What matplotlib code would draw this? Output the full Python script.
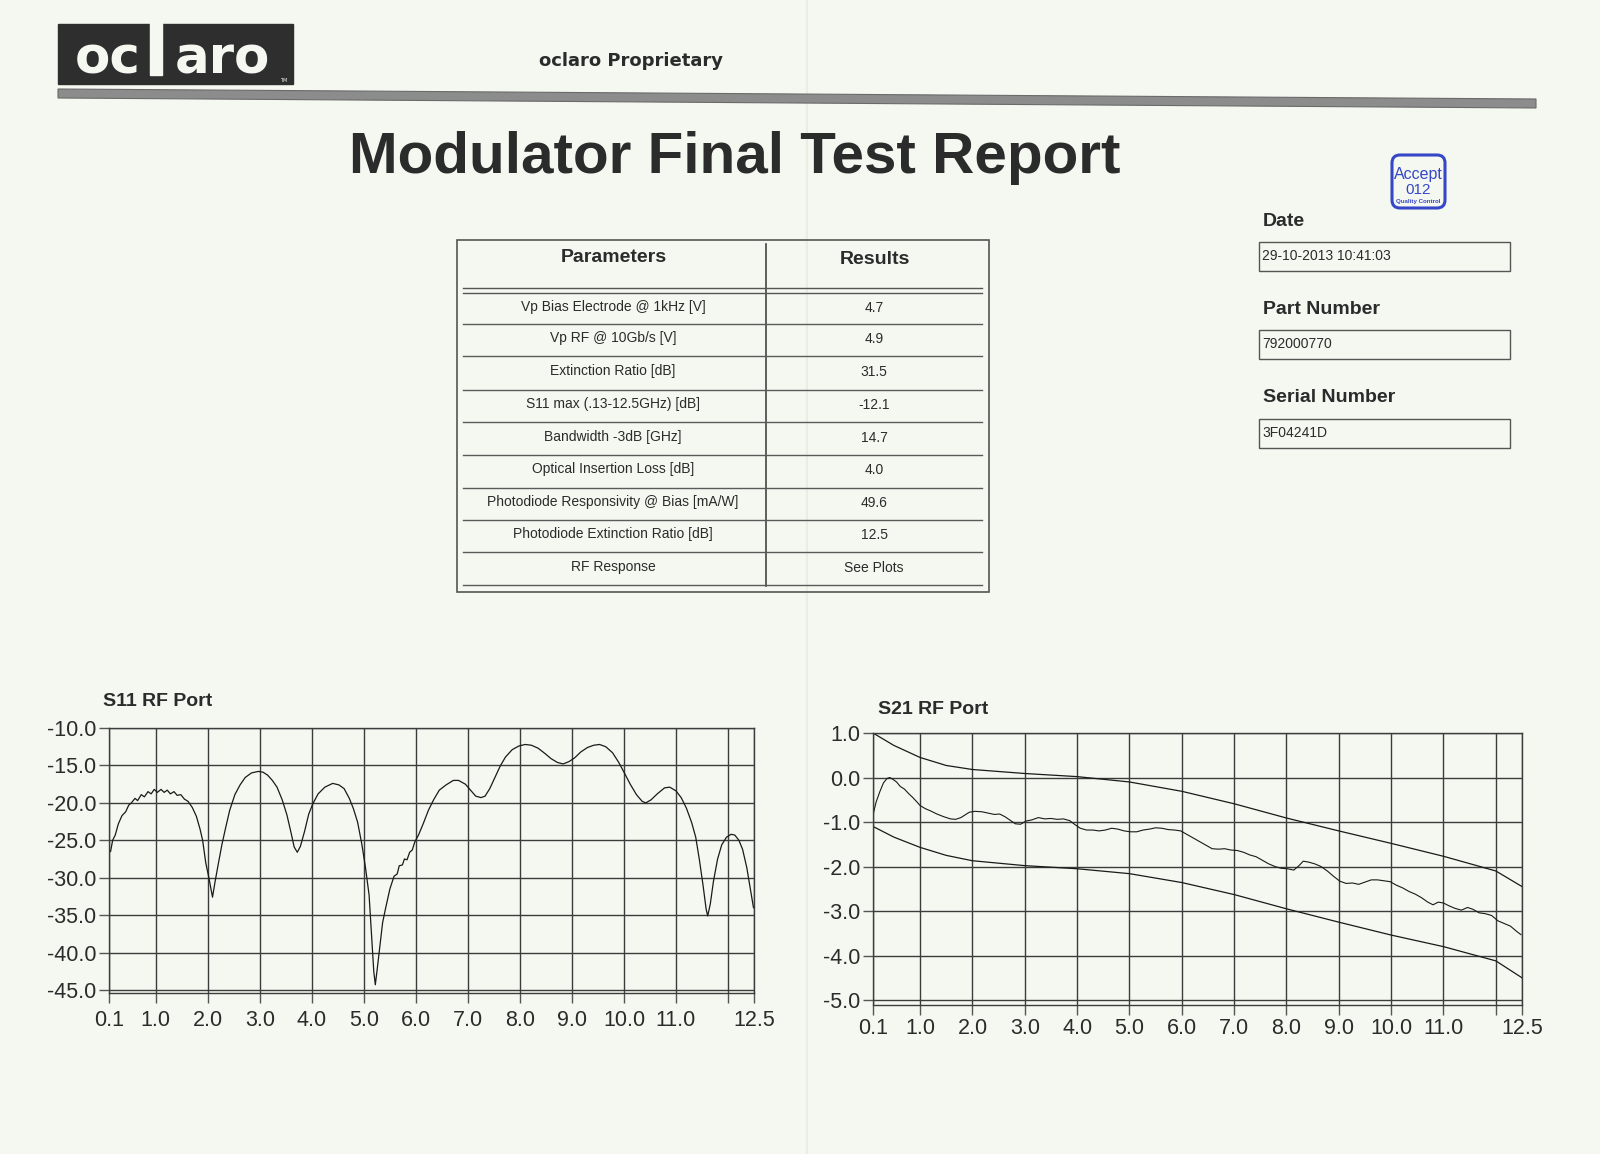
# oclaro modulator test report - redraw of scanned sheet
import matplotlib
matplotlib.use("Agg")
import matplotlib.pyplot as plt
from matplotlib.patches import Rectangle, FancyBboxPatch, Polygon

NARROW = ['Liberation Sans', 'DejaVu Sans']
ARIAL = ['Liberation Sans', 'DejaVu Sans']
INK = '#2b2b2b'
PAPER = '#f4f8f0'

# ---- report values ----
table_params = [
    "Vp Bias Electrode @ 1kHz [V]",
    "Vp RF @ 10Gb/s [V]",
    "Extinction Ratio [dB]",
    "S11 max (.13-12.5GHz) [dB]",
    "Bandwidth -3dB [GHz]",
    "Optical Insertion Loss [dB]",
    "Photodiode Responsivity @ Bias [mA/W]",
    "Photodiode Extinction Ratio [dB]",
    "RF Response",
]
table_results = ["4.7", "4.9", "31.5", "-12.1", "14.7", "4.0", "49.6", "12.5", "See Plots"]

info_labels = ["Date", "Part Number", "Serial Number"]
info_values = ["29-10-2013 10:41:03", "792000770", "3F04241D"]

# ---- S11 trace (GHz, dB) ----
s11_freq = [0.13, 0.17, 0.22, 0.28, 0.35, 0.42, 0.48, 0.53, 0.60, 0.65, 0.72, 0.78, 0.85, 0.91,
            0.97, 1.03, 1.10, 1.16, 1.22, 1.28, 1.35, 1.41, 1.48, 1.55, 1.62, 1.70, 1.78, 1.85,
            1.90, 1.96, 2.02, 2.09, 2.14, 2.20, 2.27, 2.34, 2.42, 2.52, 2.62, 2.72, 2.84, 2.97,
            3.06, 3.15, 3.24, 3.33, 3.43, 3.52, 3.60, 3.66, 3.72, 3.78, 3.86, 3.94, 4.02, 4.12,
            4.25, 4.40, 4.52, 4.62, 4.72, 4.80, 4.88, 4.96, 5.03, 5.10, 5.15, 5.19, 5.22, 5.26,
            5.31, 5.36, 5.42, 5.50, 5.58, 5.64, 5.68, 5.74, 5.78, 5.83, 5.88, 5.93, 5.98, 6.05,
            6.14, 6.24, 6.34, 6.45, 6.58, 6.72, 6.82, 6.95, 7.05, 7.15, 7.25, 7.33, 7.42, 7.52,
            7.62, 7.72, 7.85, 7.98, 8.10, 8.22, 8.35, 8.48, 8.60, 8.72, 8.83, 8.94, 9.05, 9.17,
            9.30, 9.42, 9.53, 9.65, 9.78, 9.90, 10.00, 10.12, 10.24, 10.35, 10.42, 10.52, 10.64,
            10.78, 10.88, 11.00, 11.10, 11.20, 11.30, 11.38, 11.45, 11.52, 11.58, 11.61, 11.66,
            11.72, 11.80, 11.88, 11.97, 12.06, 12.13, 12.21, 12.28, 12.36, 12.43, 12.49]
s11_db = [-26.5, -25.0, -24.3, -22.8, -21.7, -21.2, -20.3, -20.0, -19.4, -19.7, -18.9, -19.2, -18.5, -18.8,
          -18.2, -18.6, -18.2, -18.6, -18.3, -18.8, -18.5, -19.0, -18.9, -19.5, -19.8, -20.6, -21.8, -23.5,
          -25.0, -28.0, -30.0, -32.6, -30.5, -28.2, -25.6, -23.4, -21.0, -18.9, -17.6, -16.6, -16.0, -15.8,
          -15.9, -16.3, -17.0, -17.9, -19.6, -21.6, -24.0, -25.9, -26.6, -25.8, -23.8, -21.5, -20.1, -18.8,
          -17.9, -17.4, -17.6, -18.1, -19.4, -20.8, -22.6, -25.5, -28.6, -32.3, -38.0, -42.5, -44.3, -42.0,
          -39.0, -36.0, -34.0, -31.5, -29.8, -29.5, -28.4, -28.3, -27.5, -27.6, -26.6, -26.3, -25.2, -24.3,
          -22.8, -21.0, -19.6, -18.3, -17.6, -17.0, -17.0, -17.5, -18.3, -19.1, -19.3, -19.1, -18.1, -16.6,
          -15.1, -13.9, -12.9, -12.4, -12.2, -12.3, -12.7, -13.4, -14.1, -14.6, -14.8, -14.5, -14.0, -13.2,
          -12.6, -12.3, -12.2, -12.5, -13.3, -14.6, -15.9, -17.5, -18.9, -19.8, -20.0, -19.6, -18.8,
          -18.0, -17.9, -18.4, -19.3, -20.7, -22.6, -24.6, -27.6, -31.0, -34.2, -35.1, -33.5,
          -30.5, -27.5, -25.6, -24.6, -24.2, -24.3, -25.0, -26.2, -28.6, -31.5, -34.0]

# ---- S21 trace and limit lines (GHz, dB) ----
s21_freq = [0.10, 0.16, 0.23, 0.30, 0.37, 0.42, 0.48, 0.55, 0.62, 0.70, 0.78, 0.86, 0.94, 1.00,
            1.10, 1.20, 1.32, 1.45, 1.58, 1.68, 1.78, 1.86, 1.94, 2.05, 2.18, 2.30, 2.42, 2.52,
            2.62, 2.72, 2.82, 2.92, 3.02, 3.14, 3.26, 3.38, 3.50, 3.62, 3.74, 3.86, 3.96, 4.06,
            4.18, 4.30, 4.42, 4.54, 4.66, 4.78, 4.90, 5.02, 5.14, 5.26, 5.38, 5.50, 5.62, 5.74,
            5.86, 5.98, 6.10, 6.22, 6.34, 6.46, 6.58, 6.70, 6.82, 6.94, 7.06, 7.18, 7.30, 7.42,
            7.54, 7.66, 7.78, 7.90, 8.02, 8.14, 8.24, 8.32, 8.42, 8.54, 8.66, 8.78, 8.90, 9.02,
            9.14, 9.26, 9.38, 9.50, 9.62, 9.74, 9.86, 9.98, 10.10, 10.22, 10.34, 10.46, 10.58,
            10.70, 10.80, 10.90, 11.00, 11.10, 11.22, 11.34, 11.46, 11.56, 11.68, 11.80, 11.92,
            12.04, 12.16, 12.28, 12.40, 12.48]
s21_db = [-0.84, -0.55, -0.32, -0.12, -0.02, 0.00, -0.04, -0.10, -0.20, -0.26, -0.36, -0.45, -0.55, -0.63,
          -0.70, -0.75, -0.82, -0.88, -0.93, -0.94, -0.90, -0.84, -0.78, -0.76, -0.77, -0.80, -0.83, -0.82,
          -0.88, -0.96, -1.04, -1.05, -0.98, -0.95, -0.90, -0.93, -0.92, -0.94, -0.93, -0.97, -1.06, -1.14,
          -1.18, -1.18, -1.20, -1.18, -1.14, -1.16, -1.20, -1.22, -1.22, -1.18, -1.16, -1.13, -1.14, -1.17,
          -1.18, -1.20, -1.28, -1.36, -1.44, -1.52, -1.60, -1.61, -1.60, -1.63, -1.64, -1.68, -1.74, -1.78,
          -1.86, -1.94, -2.00, -2.04, -2.05, -2.08, -1.98, -1.88, -1.90, -1.94, -2.00, -2.10, -2.22, -2.33,
          -2.38, -2.37, -2.40, -2.35, -2.30, -2.30, -2.32, -2.34, -2.42, -2.48, -2.56, -2.62, -2.70,
          -2.80, -2.86, -2.80, -2.82, -2.88, -2.94, -2.98, -2.92, -2.96, -3.04, -3.06, -3.10,
          -3.22, -3.28, -3.34, -3.46, -3.53]
lim_freq = [0.1, 0.5, 1.0, 1.5, 2.0, 3.0, 4.0, 5.0, 6.0, 7.0, 8.0, 9.0, 10.0, 11.0, 12.0, 12.5]
lim_upper = [1.0, 0.72, 0.45, 0.27, 0.18, 0.09, 0.02, -0.10, -0.31, -0.59, -0.91, -1.20, -1.48, -1.77, -2.10, -2.45]
lim_lower = [-1.10, -1.34, -1.57, -1.75, -1.87, -1.98, -2.05, -2.16, -2.36, -2.63, -2.95, -3.25, -3.54, -3.80, -4.12, -4.50]

freq_ticks = [0.1, 1, 2, 3, 4, 5, 6, 7, 8, 9, 10, 11, 12, 12.5]
freq_labels = ["0.1", "1.0", "2.0", "3.0", "4.0", "5.0", "6.0", "7.0", "8.0", "9.0", "10.0", "11.0", "", "12.5"]
s11_ticks = [-10, -15, -20, -25, -30, -35, -40, -45]
s21_ticks = [1, 0, -1, -2, -3, -4, -5]

W, H = 1600, 1154
fig = plt.figure(figsize=(W / 100, H / 100), dpi=100, facecolor=PAPER)

# page layer in pixel coordinates
pg = fig.add_axes([0, 0, 1, 1])
pg.set_xlim(0, W); pg.set_ylim(H, 0); pg.axis('off')
pg.set_facecolor(PAPER)

# fold of the paper
pg.plot([807, 807], [0, H], color='#e9ede4', lw=1.5, zorder=0)

# logo
pg.add_patch(Rectangle((58, 24), 235, 60, color='#2e2e2e'))
pg.add_patch(Rectangle((150, 22), 12, 53, color=PAPER))
pg.text(108, 74, "oc", color=PAPER, fontsize=37, fontweight='bold', family='DejaVu Sans',
        ha='center', va='baseline')
pg.text(222, 74, "aro", color=PAPER, fontsize=37, fontweight='bold', family='DejaVu Sans',
        ha='center', va='baseline')
pg.text(284, 80, "TM", color=PAPER, fontsize=3.5, ha='center', va='center')
pg.text(631, 61, "oclaro Proprietary", color=INK, fontsize=13, fontweight='bold',
        family='DejaVu Sans', ha='center', va='center')
pg.add_patch(Polygon([(58, 89), (1536, 99), (1536, 108), (58, 98)], closed=True,
                     facecolor='#8c8c8c', edgecolor='#6a6a6a', lw=0.8))

pg.text(735, 158, "Modulator Final Test Report", color=INK, fontsize=42, fontweight='bold',
        family=NARROW, ha='center', va='center')

# table
pg.add_patch(Rectangle((457, 240), 532, 352, fill=False, ec='#555555', lw=1.2))
pg.plot([766, 766], [244, 586], color='#444444', lw=1.2)
pg.plot([463, 982], [288, 288], color='#555555', lw=1.0)
pg.plot([463, 982], [293, 293], color='#555555', lw=1.0)
pg.text(614, 257, "Parameters", fontsize=14, fontweight='bold', family=ARIAL, color=INK,
        ha='center', va='center')
pg.text(875, 260, "Results", fontsize=14, fontweight='bold', family=ARIAL, color=INK,
        ha='center', va='center')
row_edges = [293, 324, 356, 390, 422, 455, 488, 520, 552, 585]
for i, (p, r) in enumerate(zip(table_params, table_results)):
    top, bot = row_edges[i], row_edges[i + 1]
    yc = (top + bot) / 2 - 2
    pg.text(613, yc, p, fontsize=10, family=NARROW, color=INK, ha='center', va='center')
    pg.text(874, yc + 1, r, fontsize=10, family=NARROW, color=INK, ha='center', va='center')
    pg.plot([463, 982], [bot, bot], color='#5a5a5a', lw=1.0)

# info boxes on the right
box_tops = [242, 330, 419]
for lab, val, bt in zip(info_labels, info_values, box_tops):
    pg.text(1263, bt - 21, lab, fontsize=14, fontweight='bold', family=ARIAL, color=INK,
            ha='left', va='center')
    pg.add_patch(Rectangle((1259, bt), 251, 29, fill=False, ec='#555555', lw=1.0))
    pg.text(1262, bt + 14, val, fontsize=10, family=NARROW, color=INK, ha='left', va='center')

# QC stamp
stamp = '#3646c8'
pg.add_patch(FancyBboxPatch((1394, 157), 49, 49, boxstyle="round,pad=2,rounding_size=8",
                            fill=False, ec=stamp, lw=2.2))
pg.text(1418, 175, "Accept", color=stamp, fontsize=11.5, family=ARIAL, ha='center', va='center')
pg.text(1418, 190, "012", color=stamp, fontsize=11, family=ARIAL, ha='center', va='center')
pg.text(1418, 202, "Quality Control", color=stamp, fontsize=4.4, fontweight='bold', family=ARIAL,
        ha='center', va='center')

# plot titles
pg.text(103, 701, "S11 RF Port", fontsize=14, fontweight='bold', family=NARROW, color=INK,
        ha='left', va='center')
pg.text(878, 709, "S21 RF Port", fontsize=14, fontweight='bold', family=NARROW, color=INK,
        ha='left', va='center')


def style_axes(ax, yticks, xpad):
    ax.set_facecolor('none')
    ax.set_xlim(0.1, 12.5)
    ax.set_xticks(freq_ticks)
    ax.set_xticklabels(freq_labels)
    ax.set_yticks(yticks)
    ax.set_yticklabels([f"{v:.1f}" for v in yticks])
    ax.grid(True, color='#3c3c3c', lw=1.0)
    ax.tick_params(axis='both', direction='out', length=7, width=1.0, color='#555555',
                   labelsize=15.5, labelcolor=INK, pad=2)
    ax.tick_params(axis='x', pad=xpad)
    for lab in ax.get_xticklabels() + ax.get_yticklabels():
        lab.set_family(NARROW)
    for s in ax.spines.values():
        s.set_color('#3c3c3c')
        s.set_linewidth(1.0)


ax1 = fig.add_axes([109 / W, 1 - 993 / H, 645 / W, 265 / H])
style_axes(ax1, s11_ticks, 5)
ax1.set_ylim(-45.4, -10)
ax1.plot(s11_freq, s11_db, color='#1a1a1a', lw=0.9)

ax2 = fig.add_axes([873 / W, 1 - 1004.5 / H, 649 / W, 271.5 / H])
style_axes(ax2, s21_ticks, 3)
ax2.set_ylim(-5.1, 1.0)
ax2.plot(lim_freq, lim_upper, color='#1a1a1a', lw=0.9)
ax2.plot(lim_freq, lim_lower, color='#1a1a1a', lw=0.9)
ax2.plot(s21_freq, s21_db, color='#1a1a1a', lw=0.8)

fig.savefig("out.png", dpi=100, facecolor=PAPER)
